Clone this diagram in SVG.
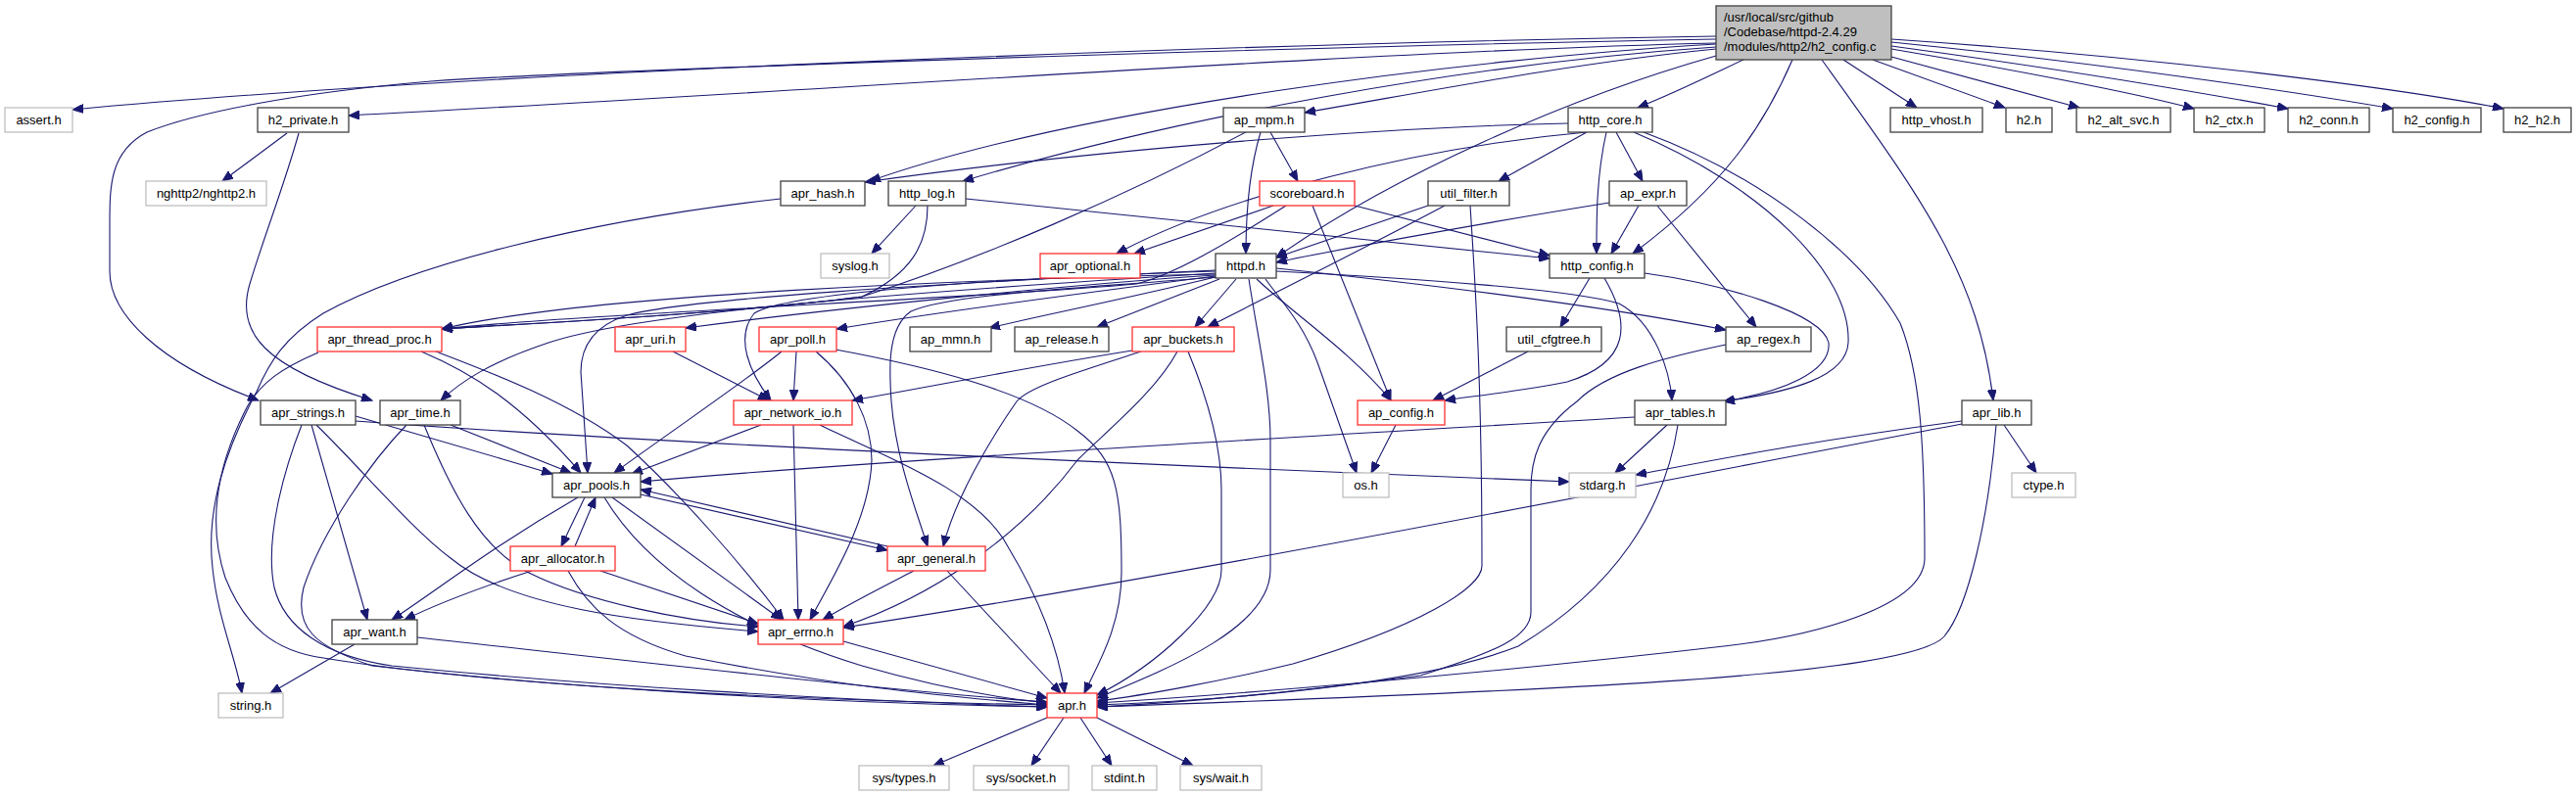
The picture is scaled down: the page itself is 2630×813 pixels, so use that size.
<svg xmlns="http://www.w3.org/2000/svg" width="2630" height="813" viewBox="0 0 2630 813">
<style>
text{font-family:"Liberation Sans",Arial,sans-serif;font-size:13px;fill:#000;text-anchor:middle}
.n rect{fill:#fff;stroke:#404040;stroke-width:1.3}
.r rect{fill:#fff;stroke:#ff3030;stroke-width:1.3}
.g rect{fill:#fff;stroke:#bfbfbf;stroke-width:1.3}
.root rect{fill:#bfbfbf;stroke:#404040;stroke-width:1.3}
.root text{text-anchor:start}
#edges path{fill:none;stroke:#191970;stroke-width:1.1}
</style>
<defs>
<marker id="a" markerWidth="12" markerHeight="9" refX="11" refY="4.5" orient="auto" markerUnits="userSpaceOnUse"><path d="M0,0 L11,4.5 L0,9 z" fill="#191970" stroke="#191970" stroke-width="1"/></marker>
</defs>
<rect width="2630" height="813" fill="#fff"/>
<g id="edges" marker-end="url(#a)">
<path d="M1752,37 C1300,44 500,72 74,112"/>
<path d="M1752,40 C1300,48 600,72 440,83 C300,95 200,115 150,135 C112,155 112,190 112,230 L112,277 C112,320 160,370 264,409"/>
<path d="M1752,44 C1400,52 800,95 356,118"/>
<path d="M1752,45 C1500,60 1100,110 888,185"/>
<path d="M1752,48 C1500,65 1200,120 983,185"/>
<path d="M1752,50 C1600,65 1450,95 1332,115"/>
<path d="M1752,57 C1600,100 1420,180 1303,263"/>
<path d="M1780,61 C1740,80 1710,95 1672,110"/>
<path d="M1830,61 C1800,130 1760,190 1667,259"/>
<path d="M1860,61 C1960,200 2020,280 2035,409"/>
<path d="M1882,61 L1957,110"/>
<path d="M1912,61 L2047,110"/>
<path d="M1931,58 L2123,110"/>
<path d="M1931,50 C2050,70 2180,95 2240,111"/>
<path d="M1931,47 C2100,70 2250,95 2336,111"/>
<path d="M1931,43 C2150,65 2350,95 2443,111"/>
<path d="M1931,40 C2200,58 2450,90 2556,111"/>
<path d="M293,136 L227,185"/>
<path d="M305,136 C290,190 270,240 255,290 C240,340 270,375 380,409"/>
<path d="M797,203 C600,225 420,270 330,320 C290,345 275,370 262,400 C230,460 210,520 217,580 C222,630 240,670 247,708"/>
<path d="M1241,280 C1000,285 600,300 451,336"/>
<path d="M1241,281 C1100,290 850,315 700,335"/>
<path d="M1241,282 C1100,300 950,320 854,336"/>
<path d="M1241,277 C1000,285 800,300 770,320 C750,345 765,380 787,409"/>
<path d="M1241,276 C950,290 700,305 640,322 C600,335 593,360 593,380 L600,483"/>
<path d="M1241,279 C900,300 650,320 560,350 C500,370 470,390 450,409"/>
<path d="M1241,283 C1100,295 970,300 930,318 C905,335 908,380 910,410 C915,470 935,520 947,558"/>
<path d="M1241,283 C1150,305 1050,325 1010,335"/>
<path d="M1245,285 L1120,334"/>
<path d="M1262,285 L1220,334"/>
<path d="M1275,285 C1285,350 1297,400 1297,450 L1297,582 C1297,640 1200,680 1120,713"/>
<path d="M1283,285 C1320,320 1380,360 1420,409"/>
<path d="M1292,285 C1310,310 1330,330 1345,370 L1385,483"/>
<path d="M1303,277 C1450,285 1600,295 1653,310 C1690,330 1705,380 1707,409"/>
<path d="M1303,274 C1500,295 1650,315 1762,337"/>
<path d="M1272,135 C1150,200 1000,265 880,303 C750,320 550,330 451,336"/>
<path d="M1287,135 C1275,175 1272,220 1272,259"/>
<path d="M1297,135 L1325,185"/>
<path d="M935,210 L890,259"/>
<path d="M947,210 C947,250 930,280 880,303 C750,320 550,330 451,336"/>
<path d="M986,203 C1200,225 1450,250 1582,264"/>
<path d="M1300,210 L1158,259"/>
<path d="M1313,210 C1250,250 1200,280 1160,290 C1000,305 600,320 451,336"/>
<path d="M1383,210 L1582,261"/>
<path d="M1340,210 L1420,409"/>
<path d="M1601,126 C1400,130 1100,155 883,186"/>
<path d="M1620,135 C1450,150 1250,200 1140,259"/>
<path d="M1620,135 L1530,185"/>
<path d="M1640,135 C1630,180 1630,220 1630,259"/>
<path d="M1650,135 L1677,185"/>
<path d="M1668,135 C1800,190 1890,280 1887,350 C1885,385 1830,400 1760,410"/>
<path d="M1678,135 C1800,180 1900,260 1940,330 C1960,380 1965,450 1965,570 C1965,620 1850,650 1760,660 C1500,690 1250,710 1120,718"/>
<path d="M1458,210 L1303,263"/>
<path d="M1475,210 C1400,250 1300,300 1233,334"/>
<path d="M1501,210 C1507,300 1513,400 1513,578 C1513,600 1450,640 1320,678 C1250,695 1170,710 1120,716"/>
<path d="M1643,207 C1500,230 1350,258 1303,268"/>
<path d="M1673,210 L1645,259"/>
<path d="M1692,210 L1793,334"/>
<path d="M1623,284 L1593,334"/>
<path d="M1638,284 C1665,330 1665,370 1600,390 C1550,400 1500,405 1475,409"/>
<path d="M1679,279 C1760,290 1860,320 1867,350 C1870,380 1820,400 1760,410"/>
<path d="M1560,359 L1463,409"/>
<path d="M1156,358 C1050,375 950,395 870,409"/>
<path d="M1165,359 C1100,380 1050,395 1038,410 C1010,450 975,510 963,558"/>
<path d="M1202,359 C1180,400 1130,440 1100,470 C1040,550 950,610 861,640"/>
<path d="M1213,359 C1230,400 1247,450 1247,500 L1247,582 C1247,620 1180,680 1120,710"/>
<path d="M813,359 L810,409"/>
<path d="M798,359 C760,390 700,430 627,483"/>
<path d="M833,359 C870,390 890,430 890,470 C888,530 850,590 827,633"/>
<path d="M853,357 C950,375 1050,400 1100,440 C1140,470 1145,500 1145,585 C1145,640 1120,680 1107,708"/>
<path d="M687,359 L785,409"/>
<path d="M430,359 C480,380 530,410 593,483"/>
<path d="M445,359 C500,380 580,410 640,455 C700,510 760,580 800,633"/>
<path d="M325,360 C290,375 265,390 250,420 C225,470 210,530 230,590 C250,640 280,665 330,672 C500,700 800,715 1069,720"/>
<path d="M363,425 C450,450 500,465 564,484"/>
<path d="M363,430 C700,455 1300,480 1602,492"/>
<path d="M323,434 C370,480 420,540 460,570 C520,620 650,635 774,645"/>
<path d="M318,434 L375,633"/>
<path d="M308,434 C290,480 270,550 280,600 C290,640 330,670 400,680 C600,700 850,715 1069,722"/>
<path d="M460,434 L583,483"/>
<path d="M433,434 C460,500 490,560 540,585 C600,615 700,635 774,640"/>
<path d="M415,434 C380,470 330,540 310,600 C300,640 320,660 380,680 C600,705 850,718 1069,722"/>
<path d="M777,434 L645,484"/>
<path d="M810,434 L815,633"/>
<path d="M837,434 C900,465 1000,500 1030,560 C1060,610 1080,660 1087,708"/>
<path d="M1425,434 L1400,483"/>
<path d="M1669,426 C1300,448 900,470 654,492"/>
<path d="M1702,434 L1649,483"/>
<path d="M1713,434 C1700,520 1650,600 1550,660 C1450,700 1250,715 1120,720"/>
<path d="M1762,352 C1700,365 1640,380 1610,410 C1570,440 1563,470 1563,500 L1563,625 C1563,650 1530,665 1450,690 C1300,710 1200,718 1120,722"/>
<path d="M2003,430 C1850,450 1750,470 1670,485"/>
<path d="M2003,433 C1700,490 1200,590 861,641"/>
<path d="M2046,434 L2079,483"/>
<path d="M2038,434 C2030,530 2010,620 1985,650 C1950,690 1600,705 1120,722"/>
<path d="M590,508 C500,560 450,600 400,633"/>
<path d="M597,508 L573,558"/>
<path d="M617,508 C660,580 750,640 880,680 C950,700 1010,712 1069,718"/>
<path d="M625,508 L798,633"/>
<path d="M654,505 L906,562"/>
<path d="M906,558 L654,500"/>
<path d="M587,558 L608,508"/>
<path d="M543,583 C490,600 450,615 413,633"/>
<path d="M613,583 L774,637"/>
<path d="M580,583 C600,620 630,650 700,670 C850,700 950,710 1069,720"/>
<path d="M933,583 C900,600 870,615 840,633"/>
<path d="M967,583 L1083,708"/>
<path d="M861,655 L1069,713"/>
<path d="M362,658 L276,708"/>
<path d="M426,651 C600,670 900,705 1069,717"/>
<path d="M1069,733 L953,782"/>
<path d="M1086,733 L1053,782"/>
<path d="M1103,733 L1135,782"/>
<path d="M1120,733 L1218,782"/>
</g>
<g id="root" class="root"><rect x="1752" y="6" width="179" height="55"/><text x="1760" y="22">/usr/local/src/github</text><text x="1760" y="37">/Codebase/httpd-2.4.29</text><text x="1760" y="52">/modules/http2/h2_config.c</text></g>
<g id="assert_h" class="g"><rect x="5" y="110" width="69" height="25"/><text x="39.5" y="127">assert.h</text></g>
<g id="h2_private_h" class="n"><rect x="263" y="110" width="93" height="25"/><text x="309.5" y="127">h2_private.h</text></g>
<g id="ap_mpm_h" class="n"><rect x="1249" y="110" width="83" height="25"/><text x="1290.5" y="127">ap_mpm.h</text></g>
<g id="http_core_h" class="n"><rect x="1601" y="110" width="86" height="25"/><text x="1644" y="127">http_core.h</text></g>
<g id="http_vhost_h" class="n"><rect x="1930" y="110" width="94" height="25"/><text x="1977" y="127">http_vhost.h</text></g>
<g id="h2_h" class="n"><rect x="2048" y="110" width="47" height="25"/><text x="2071.5" y="127">h2.h</text></g>
<g id="h2_alt_svc_h" class="n"><rect x="2120" y="110" width="96" height="25"/><text x="2168" y="127">h2_alt_svc.h</text></g>
<g id="h2_ctx_h" class="n"><rect x="2240" y="110" width="72" height="25"/><text x="2276" y="127">h2_ctx.h</text></g>
<g id="h2_conn_h" class="n"><rect x="2336" y="110" width="83" height="25"/><text x="2377.5" y="127">h2_conn.h</text></g>
<g id="h2_config_h" class="n"><rect x="2443" y="110" width="90" height="25"/><text x="2488" y="127">h2_config.h</text></g>
<g id="h2_h2_h" class="n"><rect x="2556" y="110" width="69" height="25"/><text x="2590.5" y="127">h2_h2.h</text></g>
<g id="nghttp2_h" class="g"><rect x="149" y="185" width="123" height="25"/><text x="210.5" y="202">nghttp2/nghttp2.h</text></g>
<g id="apr_hash_h" class="n"><rect x="797" y="185" width="86" height="25"/><text x="840" y="202">apr_hash.h</text></g>
<g id="http_log_h" class="n"><rect x="907" y="185" width="79" height="25"/><text x="946.5" y="202">http_log.h</text></g>
<g id="scoreboard_h" class="r"><rect x="1286" y="185" width="97" height="25"/><text x="1334.5" y="202">scoreboard.h</text></g>
<g id="util_filter_h" class="n"><rect x="1458" y="185" width="83" height="25"/><text x="1499.5" y="202">util_filter.h</text></g>
<g id="ap_expr_h" class="n"><rect x="1643" y="185" width="79" height="25"/><text x="1682.5" y="202">ap_expr.h</text></g>
<g id="syslog_h" class="g"><rect x="838" y="259" width="70" height="25"/><text x="873" y="276">syslog.h</text></g>
<g id="apr_optional_h" class="r"><rect x="1062" y="259" width="102" height="25"/><text x="1113" y="276">apr_optional.h</text></g>
<g id="httpd_h" class="n"><rect x="1241" y="259" width="62" height="25"/><text x="1272" y="276">httpd.h</text></g>
<g id="http_config_h" class="n"><rect x="1582" y="259" width="97" height="25"/><text x="1630.5" y="276">http_config.h</text></g>
<g id="apr_thread_proc_h" class="r"><rect x="324" y="334" width="127" height="25"/><text x="387.5" y="351">apr_thread_proc.h</text></g>
<g id="apr_uri_h" class="r"><rect x="628" y="334" width="72" height="25"/><text x="664" y="351">apr_uri.h</text></g>
<g id="apr_poll_h" class="r"><rect x="775" y="334" width="79" height="25"/><text x="814.5" y="351">apr_poll.h</text></g>
<g id="ap_mmn_h" class="n"><rect x="929" y="334" width="83" height="25"/><text x="970.5" y="351">ap_mmn.h</text></g>
<g id="ap_release_h" class="n"><rect x="1036" y="334" width="96" height="25"/><text x="1084" y="351">ap_release.h</text></g>
<g id="apr_buckets_h" class="r"><rect x="1156" y="334" width="104" height="25"/><text x="1208" y="351">apr_buckets.h</text></g>
<g id="util_cfgtree_h" class="n"><rect x="1538" y="334" width="97" height="25"/><text x="1586.5" y="351">util_cfgtree.h</text></g>
<g id="ap_regex_h" class="n"><rect x="1762" y="334" width="87" height="25"/><text x="1805.5" y="351">ap_regex.h</text></g>
<g id="apr_strings_h" class="n"><rect x="266" y="409" width="97" height="25"/><text x="314.5" y="426">apr_strings.h</text></g>
<g id="apr_time_h" class="n"><rect x="388" y="409" width="82" height="25"/><text x="429" y="426">apr_time.h</text></g>
<g id="apr_network_io_h" class="r"><rect x="749" y="409" width="121" height="25"/><text x="809.5" y="426">apr_network_io.h</text></g>
<g id="ap_config_h" class="r"><rect x="1386" y="409" width="89" height="25"/><text x="1430.5" y="426">ap_config.h</text></g>
<g id="apr_tables_h" class="n"><rect x="1669" y="409" width="93" height="25"/><text x="1715.5" y="426">apr_tables.h</text></g>
<g id="apr_lib_h" class="n"><rect x="2003" y="409" width="71" height="25"/><text x="2038.5" y="426">apr_lib.h</text></g>
<g id="apr_pools_h" class="n"><rect x="564" y="483" width="90" height="25"/><text x="609" y="500">apr_pools.h</text></g>
<g id="os_h" class="g"><rect x="1371" y="483" width="47" height="25"/><text x="1394.5" y="500">os.h</text></g>
<g id="stdarg_h" class="g"><rect x="1602" y="483" width="68" height="25"/><text x="1636" y="500">stdarg.h</text></g>
<g id="ctype_h" class="g"><rect x="2054" y="483" width="65" height="25"/><text x="2086.5" y="500">ctype.h</text></g>
<g id="apr_allocator_h" class="r"><rect x="521" y="558" width="107" height="25"/><text x="574.5" y="575">apr_allocator.h</text></g>
<g id="apr_general_h" class="r"><rect x="906" y="558" width="100" height="25"/><text x="956" y="575">apr_general.h</text></g>
<g id="apr_want_h" class="n"><rect x="339" y="633" width="87" height="25"/><text x="382.5" y="650">apr_want.h</text></g>
<g id="apr_errno_h" class="r"><rect x="774" y="633" width="87" height="25"/><text x="817.5" y="650">apr_errno.h</text></g>
<g id="string_h" class="g"><rect x="223" y="708" width="66" height="25"/><text x="256" y="725">string.h</text></g>
<g id="apr_h" class="r"><rect x="1069" y="708" width="51" height="25"/><text x="1094.5" y="725">apr.h</text></g>
<g id="sys_types_h" class="g"><rect x="877" y="782" width="92" height="25"/><text x="923" y="799">sys/types.h</text></g>
<g id="sys_socket_h" class="g"><rect x="994" y="782" width="97" height="25"/><text x="1042.5" y="799">sys/socket.h</text></g>
<g id="stdint_h" class="g"><rect x="1115" y="782" width="66" height="25"/><text x="1148" y="799">stdint.h</text></g>
<g id="sys_wait_h" class="g"><rect x="1205" y="782" width="83" height="25"/><text x="1246.5" y="799">sys/wait.h</text></g>
</svg>
